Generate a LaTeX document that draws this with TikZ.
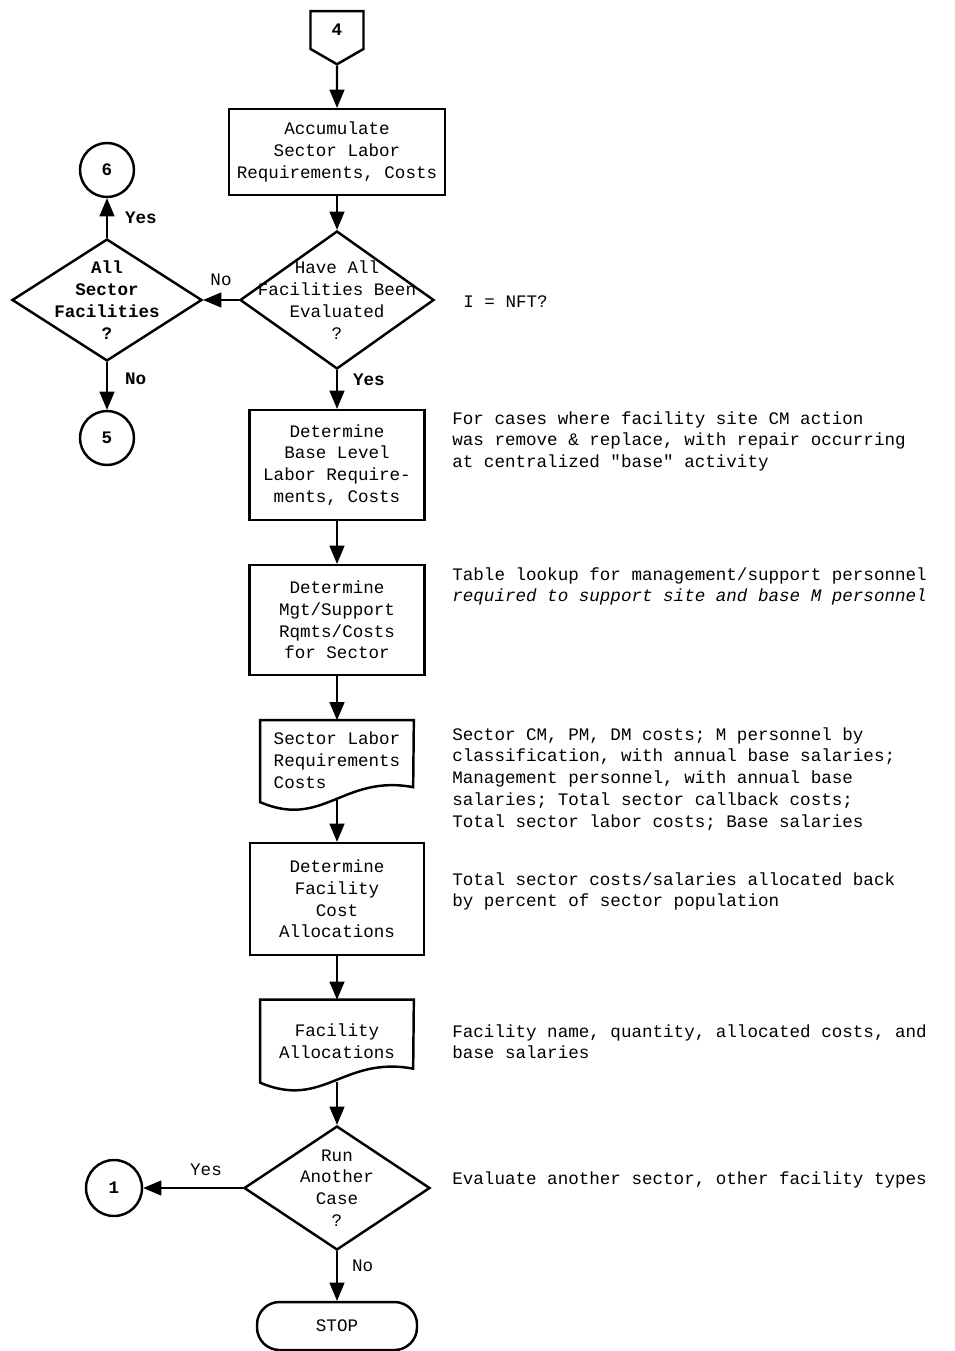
\documentclass[tikz,border=0pt]{standalone}
\usepackage{fontspec}
\setmainfont[Ligatures=TeXOff]{Liberation Mono}
\usetikzlibrary{arrows,shapes.geometric,shapes.symbols}

\tikzset{
  flow/.style={line width=1.4pt},
  box/.style={draw, flow, rectangle, align=center, inner sep=0pt},
  doc/.style={rectangle, align=left, inner sep=0pt},
  decision/.style={draw, flow, diamond, inner sep=0pt},
  conn/.style={draw, flow, circle, minimum size=1.08cm, inner sep=0pt, font=\bfseries},
  note/.style={anchor=north west, align=left, inner sep=0pt},
  yesno/.style={font=\bfseries},
}

\begin{document}
\fontsize{10}{12.4}\selectfont
\begin{tikzpicture}[x=0.02cm, y=-0.02cm, >=triangle 45]
    \useasboundingbox (0,0) rectangle (955,1351);
    % main column
    \node [draw, flow, signal, signal to=south, signal pointer angle=120, minimum width=1.06cm, minimum height=0.82cm, inner sep=0pt, font=\bfseries] (C4) at (337,30) {4};
    \node [box, minimum width=4.32cm, minimum height=1.72cm] (Acc) at (337,152) {Accumulate\\Sector Labor\\Requirements, Costs};
    \node [decision, minimum width=3.88cm, minimum height=2.76cm, label={[align=center]center:{Have All\\Facilities Been\\Evaluated\\?}}] (Have) at (337,300) {};
    \node [box, minimum width=3.5cm, minimum height=2.2cm] (Base) at (337,465) {Determine\\Base Level\\Labor Require-\\ments, Costs};
    \node [box, minimum width=3.5cm, minimum height=2.2cm] (Mgt) at (337,620) {Determine\\Mgt/Support\\Rqmts/Costs\\for Sector};
    \node [doc, minimum width=3.06cm, minimum height=1.58cm] (LabDoc) at (337,760) {Sector Labor\\Requirements\\Costs};
    \node [box, minimum width=3.48cm, minimum height=2.24cm] (Alloc) at (337,899) {Determine\\Facility\\Cost\\Allocations};
    \node [doc, align=center, minimum width=3.06cm, minimum height=1.64cm] (FacDoc) at (337,1041) {Facility\\Allocations};
    \node [decision, minimum width=3.72cm, minimum height=2.48cm, label={[align=center]center:{Run\\Another\\Case\\?}}] (Run) at (337,1188) {};
    \node [draw, flow, rectangle, rounded corners=0.45cm, minimum width=3.2cm, minimum height=0.96cm] (Stop) at (337,1326) {STOP};
    % left branch
    \node [decision, minimum width=3.8cm, minimum height=2.44cm, label={[align=center, font=\bfseries]center:{All\\Sector\\Facilities\\?}}] (AllSec) at (107,300) {};
    \node [conn] (C6) at (107,170) {6};
    \node [conn] (C5) at (107,438) {5};
    \node [conn, minimum size=1.12cm] (C1) at (114,1188) {1};
    % document outlines
    \draw [flow] (LabDoc.north east) -- (LabDoc.north west) -- ++(0,82) .. controls +(63,27) and +(-70,-13) .. ++(153,-15) -- cycle;
    \draw [flow] (FacDoc.north east) -- (FacDoc.north west) -- ++(0,83) .. controls +(63,27) and +(-70,-13) .. ++(153,-14) -- cycle;
    % notes
    \node at (463,302) [anchor=west, inner sep=0pt] (Nft) {I = NFT?};
    \node at (452,411) [note] (NBase) {For cases where facility site CM action\\was remove \& replace, with repair occurring\\at centralized "base" activity};
    \node at (452,567) [note] (NMgt) {Table lookup for management/support personnel\\\textit{required to support site and base M personnel}};
    \node at (452,727) [note] (NLab) {Sector CM, PM, DM costs; M personnel by\\classification, with annual base salaries;\\Management personnel, with annual base\\salaries; Total sector callback costs;\\Total sector labor costs; Base salaries};
    \node at (452,872) [note] (NAlloc) {Total sector costs/salaries allocated back\\by percent of sector population};
    \node at (452,1024) [note] (NFac) {Facility name, quantity, allocated costs, and\\base salaries};
    \node at (452,1180) [anchor=west, inner sep=0pt] (NRun) {Evaluate another sector, other facility types};
    % connectors
    \draw [flow, ->] (C4) -- (Acc);
    \draw [flow, ->] (Acc) -- (Have);
    \draw [flow, ->] (Have) -- node [above, yshift=0.14cm] {No} (AllSec);
    \draw [flow, ->] (AllSec) -- node [right, yesno, xshift=0.22cm] {Yes} (C6);
    \draw [flow, ->] (AllSec) -- node [right, yesno, xshift=0.22cm, yshift=0.14cm] {No} (C5);
    \draw [flow, ->] (Have) -- node [right, yesno, xshift=0.18cm, yshift=0.2cm] {Yes} (Base);
    \draw [flow, ->] (Base) -- (Mgt);
    \draw [flow, ->] (Mgt) -- (LabDoc);
    \draw [flow, ->] (LabDoc) -- (Alloc);
    \draw [flow, ->] (Alloc) -- (FacDoc);
    \draw [flow, ->] (FacDoc) -- (Run);
    \draw [flow, ->] (Run) -- node [above, xshift=0.26cm, yshift=0.1cm] {Yes} (C1);
    \draw [flow, ->] (Run) -- node [right, xshift=0.16cm, yshift=0.2cm] {No} (Stop);
\end{tikzpicture}
\end{document}
